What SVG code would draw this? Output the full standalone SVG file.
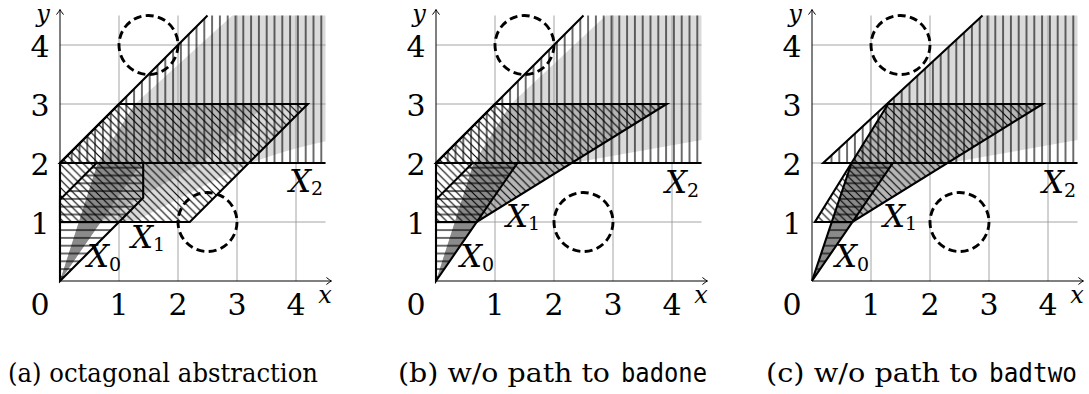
<svg xmlns="http://www.w3.org/2000/svg" width="1089" height="394" viewBox="0 0 1089 394">
<style>
.L{fill:#dadada}
.M{fill:#b6b6b6}
.D{fill:#8a8a8a}
.grid{fill:none;stroke:#9a9a9a;stroke-width:0.9}
.edge{fill:none;stroke:#000;stroke-width:2.1;stroke-linejoin:miter}
.axis{fill:none;stroke:#000;stroke-width:1}
.bad{fill:none;stroke:#000;stroke-width:2.9;stroke-dasharray:8 4.36}
.hh{fill:url(#ph)}
.hv{fill:url(#pv)}
.hd{fill:url(#pd)}
.num{font-size:30px;text-anchor:middle}
.var{font-style:italic;font-size:24px;text-anchor:middle}
.lab{font-style:italic;font-size:31px}
.sub{font-style:normal;font-size:19px}
.cap{font-size:26px}
.tt{font-size:26px}
</style>
<defs>
<pattern id="ph" patternUnits="userSpaceOnUse" width="7.8" height="7.8"><path d="M0,3.9H7.8" stroke="#000" stroke-width="1.15"/></pattern>
<pattern id="pv" patternUnits="userSpaceOnUse" width="7.8" height="7.8"><path d="M3.9,0V7.8" stroke="#000" stroke-width="1.15"/></pattern>
<pattern id="pd" patternUnits="userSpaceOnUse" width="7.8" height="7.8"><path d="M0,0L7.8,7.8M-1,6.8L1,8.8M6.8,-1L8.8,1" stroke="#000" stroke-width="1.15"/></pattern>
<marker id="ar" viewBox="-6 -4 8 8" refX="0" refY="0" markerWidth="8" markerHeight="8" orient="auto" markerUnits="userSpaceOnUse"><path d="M-5,-3.5Q-1.5,-0.8 0,0Q-1.5,0.8 -5,3.5" fill="none" stroke="#000" stroke-width="1"/></marker>
</defs>
<rect width="1089" height="394" fill="#fff"/>

<!-- Panel (a) -->
<g id="panel-a" transform="translate(60,0)" font-family="DejaVu Serif, serif">
  <g id="a-shading">
    <path class="L" d="M40.71,222L76.7,220.23L171.1,171.85Q206.5,154.15 265.5,141.17L265.5,15.5L172.28,15.5L74.93,104Z"/>
    <path class="M" d="M0,281L40.71,222L82.6,195.45L141.6,163L206.5,104L74.93,104L37.76,163Z"/>
    <path class="D" d="M0,281L37.76,163L81.42,163Z"/>
  </g>
  <path class="grid" d="M59,15.5V281M118,15.5V281M177,15.5V281M236,15.5V281M0,222H265.5M0,163H265.5M0,104H265.5M0,45H265.5"/>
  <g id="a-X2"><path class="hv" d="M0,163L147.5,15.5L265.5,15.5L265.5,163Z"/><path class="edge" d="M147.5,15.5L0,163H265.5"/></g>
  <g id="a-X1"><path class="hd" d="M0,222L129.8,222L247.8,104L59,104L0,163Z"/><path class="edge" d="M0,222L129.8,222L247.8,104L59,104L0,163Z"/></g>
  <g id="a-X0"><path class="hh" d="M0,281L83.19,197.81L83.19,163L36.58,163L0,199.58Z"/><path class="edge" d="M0,281L83.19,197.81L83.19,163L36.58,163L0,199.58Z"/></g>
  <g id="a-axes"><path class="axis" d="M0,281H271.4" marker-end="url(#ar)"/><path class="axis" d="M0,281V9.6" marker-end="url(#ar)"/></g>
  <g id="a-bad"><circle class="bad" cx="88.5" cy="45" r="29.5"/><circle class="bad" cx="147.5" cy="222" r="29.5"/></g>
  <g id="a-ticks">
    <text class="num" x="-20" y="314.5">0</text><text class="num" x="59" y="314.5">1</text><text class="num" x="118" y="314.5">2</text><text class="num" x="177" y="314.5">3</text><text class="num" x="236" y="314.5">4</text>
    <text class="num" x="-20" y="233.5">1</text><text class="num" x="-20" y="174.5">2</text><text class="num" x="-20" y="115.5">3</text><text class="num" x="-20" y="56.5">4</text>
    <text class="var" x="265" y="303">x</text><text class="var" x="-17" y="22">y</text>
  </g>
  <g id="a-labels">
    <text class="lab" x="27" y="266.5">X<tspan class="sub" dy="4.5">0</tspan></text>
    <text class="lab" x="71" y="247.5">X<tspan class="sub" dy="3.5">1</tspan></text>
    <text class="lab" x="229" y="191.5">X<tspan class="sub" dy="3.5">2</tspan></text>
  </g>
</g>

<!-- Panel (b) -->
<g id="panel-b" transform="translate(436,0)" font-family="DejaVu Serif, serif">
  <g id="b-shading">
    <path class="L" d="M74.93,104L169.92,15.5L265.5,15.5L265.5,140L136.88,163Z"/>
    <path class="M" d="M0,281L40.71,222L230.69,104L74.93,104L37.76,163Z"/>
    <path class="D" d="M0,281L37.76,163L81.42,163Z"/>
  </g>
  <path class="grid" d="M59,15.5V281M118,15.5V281M177,15.5V281M236,15.5V281M0,222H265.5M0,163H265.5M0,104H265.5M0,45H265.5"/>
  <g id="b-X2"><path class="hv" d="M0,163L147.5,15.5L265.5,15.5L265.5,163Z"/><path class="edge" d="M147.5,15.5L0,163H265.5"/></g>
  <g id="b-X1"><path class="hd" d="M0,222L40.71,222L230.69,104L59,104L0,163Z"/><path class="edge" d="M0,222L40.71,222L230.69,104L59,104L0,163Z"/></g>
  <g id="b-X0"><path class="hh" d="M0,281L81.42,163L36.58,163L0,199.58Z"/><path class="edge" d="M0,281L81.42,163L36.58,163L0,199.58Z"/></g>
  <g id="b-axes"><path class="axis" d="M0,281H271.4" marker-end="url(#ar)"/><path class="axis" d="M0,281V9.6" marker-end="url(#ar)"/></g>
  <g id="b-bad"><circle class="bad" cx="88.5" cy="45" r="29.5"/><circle class="bad" cx="147.5" cy="222" r="29.5"/></g>
  <g id="b-ticks">
    <text class="num" x="-20" y="314.5">0</text><text class="num" x="59" y="314.5">1</text><text class="num" x="118" y="314.5">2</text><text class="num" x="177" y="314.5">3</text><text class="num" x="236" y="314.5">4</text>
    <text class="num" x="-20" y="233.5">1</text><text class="num" x="-20" y="174.5">2</text><text class="num" x="-20" y="115.5">3</text><text class="num" x="-20" y="56.5">4</text>
    <text class="var" x="265" y="303">x</text><text class="var" x="-17" y="22">y</text>
  </g>
  <g id="b-labels">
    <text class="lab" x="24" y="266.5">X<tspan class="sub" dy="4">0</tspan></text>
    <text class="lab" x="70" y="226.5">X<tspan class="sub" dy="3.5">1</tspan></text>
    <text class="lab" x="229" y="193">X<tspan class="sub" dy="3.5">2</tspan></text>
  </g>
</g>

<!-- Panel (c) -->
<g id="panel-c" transform="translate(812,0)" font-family="DejaVu Serif, serif">
  <g id="c-shading">
    <path class="L" d="M76.11,104L170.51,15.5L265.5,15.5L265.5,140L136.88,163Z"/>
    <path class="M" d="M0,281L40.4,222L230.69,104L76.11,104L39.53,163Z"/>
    <path class="D" d="M0,281L39.53,163L80.8,163Z"/>
  </g>
  <path class="grid" d="M59,15.5V281M118,15.5V281M177,15.5V281M236,15.5V281M0,222H265.5M0,163H265.5M0,104H265.5M0,45H265.5"/>
  <g id="c-X2"><path class="hv" d="M11.21,163L170.51,15.5L265.5,15.5L265.5,163Z"/><path class="edge" d="M170.51,15.5L11.21,163H265.5"/></g>
  <g id="c-X1"><path class="hd" d="M2.95,222L40.4,222L230.69,104L76.11,104Z"/><path class="edge" d="M2.95,222L40.4,222L230.69,104L76.11,104Z"/></g>
  <g id="c-X0"><path class="hh" d="M0,281L39.53,163L80.8,163Z"/><path class="edge" d="M0,281L39.53,163L80.8,163Z"/></g>
  <g id="c-axes"><path class="axis" d="M0,281H271.4" marker-end="url(#ar)"/><path class="axis" d="M0,281V9.6" marker-end="url(#ar)"/></g>
  <g id="c-bad"><circle class="bad" cx="88.5" cy="45" r="29.5"/><circle class="bad" cx="147.5" cy="222" r="29.5"/></g>
  <g id="c-ticks">
    <text class="num" x="-20" y="314.5">0</text><text class="num" x="59" y="314.5">1</text><text class="num" x="118" y="314.5">2</text><text class="num" x="177" y="314.5">3</text><text class="num" x="236" y="314.5">4</text>
    <text class="num" x="-20" y="233.5">1</text><text class="num" x="-20" y="174.5">2</text><text class="num" x="-20" y="115.5">3</text><text class="num" x="-20" y="56.5">4</text>
    <text class="var" x="265" y="303">x</text><text class="var" x="-17" y="22">y</text>
  </g>
  <g id="c-labels">
    <text class="lab" x="23" y="266.5">X<tspan class="sub" dy="4.5">0</tspan></text>
    <text class="lab" x="71" y="226.5">X<tspan class="sub" dy="3.5">1</tspan></text>
    <text class="lab" x="230" y="193">X<tspan class="sub" dy="3.5">2</tspan></text>
  </g>
</g>

<g id="captions" font-family="DejaVu Serif, serif">
  <text class="cap" x="8" y="382" textLength="310" lengthAdjust="spacingAndGlyphs">(a) octagonal abstraction</text>
  <text class="cap" x="398" y="382" textLength="212" lengthAdjust="spacingAndGlyphs">(b) w/o path to</text>
  <text class="tt" x="621" y="382" textLength="86" lengthAdjust="spacingAndGlyphs" font-family="DejaVu Sans Mono, monospace">badone</text>
  <text class="cap" x="766" y="382" textLength="212" lengthAdjust="spacingAndGlyphs">(c) w/o path to</text>
  <text class="tt" x="989" y="382" textLength="88" lengthAdjust="spacingAndGlyphs" font-family="DejaVu Sans Mono, monospace">badtwo</text>
</g>
</svg>
